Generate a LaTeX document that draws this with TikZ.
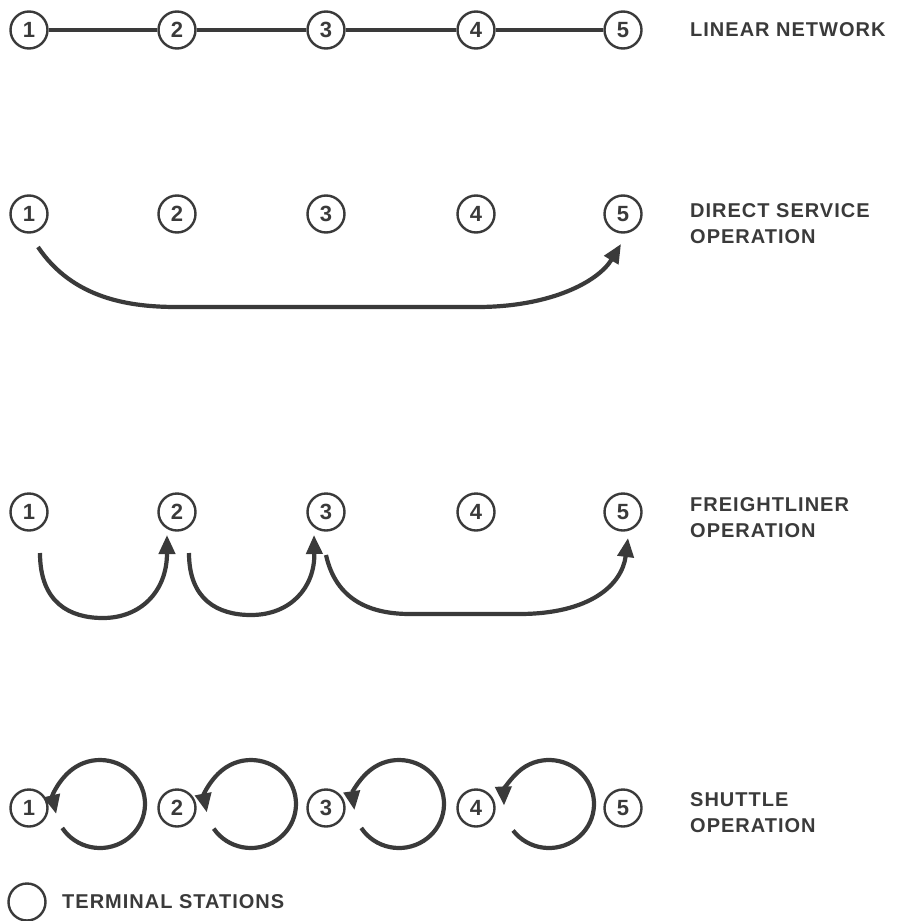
\documentclass[tikz,border=0pt]{standalone}
\usepackage{fontspec}
\setmainfont{Liberation Sans}
\newfontfamily\labfont[LetterSpace=5]{Liberation Sans}
\usetikzlibrary{arrows.meta}
\definecolor{ink}{RGB}{58,58,58}
\tikzset{
  station/.style={circle, draw=ink, line width=2.4pt, minimum size=37pt, inner sep=0pt,
    text=ink, font=\fontsize{22}{22}\selectfont\bfseries},
  linkline/.style={draw=ink, line width=4pt},
  flow/.style={draw=ink, line width=4.2pt, -{Triangle[length=19pt,width=16pt]}},
  caption/.style={anchor=west, text=ink, font=\labfont\fontsize{20}{26}\selectfont\bfseries, align=left, inner sep=0pt}
}
\begin{document}
\begin{tikzpicture}[x=1pt,y=1pt]
\useasboundingbox (0,0) rectangle (897,-921);
% ---- Row 1: linear network
\foreach \i/\x in {1/29,2/177,3/326,4/476,5/623}{
  \node[station] (a\i) at (\x,-30) {\i};
}
\draw[linkline] (a1) -- (a2);
\draw[linkline] (a2) -- (a3);
\draw[linkline] (a3) -- (a4);
\draw[linkline] (a4) -- (a5);
\node[caption] (t1) at (690,-30) {LINEAR NETWORK};
% ---- Row 2: direct service
\foreach \i/\x in {1/29,2/177,3/326,4/476,5/623}{
  \node[station] (b\i) at (\x,-214) {\i};
}
\coordinate (bs) at ([xshift=9pt,yshift=-33pt]b1.center);
\coordinate (be) at ([xshift=-2pt,yshift=-30pt]b5.center);
\draw[flow] (bs) .. controls +(35,-52) and (130,-307) .. (177,-307)
  -- (477,-307) .. controls (550,-307) and (598,-282) .. (be);
\node[caption] (t2) at (690,-224) {DIRECT SERVICE\\OPERATION};
% ---- Row 3: freightliner
\foreach \i/\x in {1/29,2/177,3/326,4/476,5/623}{
  \node[station] (c\i) at (\x,-512) {\i};
}
\coordinate (cs1) at ([xshift=11pt,yshift=-41pt]c1.center);
\coordinate (ce1) at ([xshift=-10pt,yshift=-23pt]c2.center);
\coordinate (cs2) at ([xshift=12pt,yshift=-41pt]c2.center);
\coordinate (ce2) at ([xshift=-12pt,yshift=-23pt]c3.center);
\coordinate (cs3) at ([xshift=0pt,yshift=-43pt]c3.center);
\coordinate (ce3) at ([xshift=5pt,yshift=-26pt]c5.center);
\draw[flow] (cs1) .. controls (40,-603) and (70,-618) .. (103,-618)
  .. controls (140,-618) and (167,-592) .. (ce1);
\draw[flow] (cs2) .. controls (189,-600) and (218,-615) .. (251,-615)
  .. controls (290,-615) and (315,-588) .. (ce2);
\draw[flow] (cs3) .. controls (336,-600) and (370,-614) .. (410,-614)
  -- (519,-614) .. controls (590,-614) and (622,-585) .. (ce3);
\node[caption] (t3) at (690,-518) {FREIGHTLINER\\OPERATION};
% ---- Row 4: shuttle
\foreach \i/\x in {1/29,2/177,3/326,4/476,5/623}{
  \node[station] (d\i) at (\x,-808) {\i};
}
\foreach \j/\cx/\sa/\ea in {1/100/213/553, 2/251/214/551, 3/399/213/548, 4/549/217/542}{
  \coordinate (lc\j) at (\cx,-804);
  \draw[flow] ([shift={(\sa:45 and 44)}]lc\j) arc[start angle=\sa, end angle=\ea, x radius=45, y radius=44];
}
\node[caption] (t4) at (690,-813) {SHUTTLE\\OPERATION};
% ---- Legend
\node[station] (leg) at (27,-902) {};
\node[caption] (tl) at (62,-902) {TERMINAL STATIONS};
\end{tikzpicture}
\end{document}
